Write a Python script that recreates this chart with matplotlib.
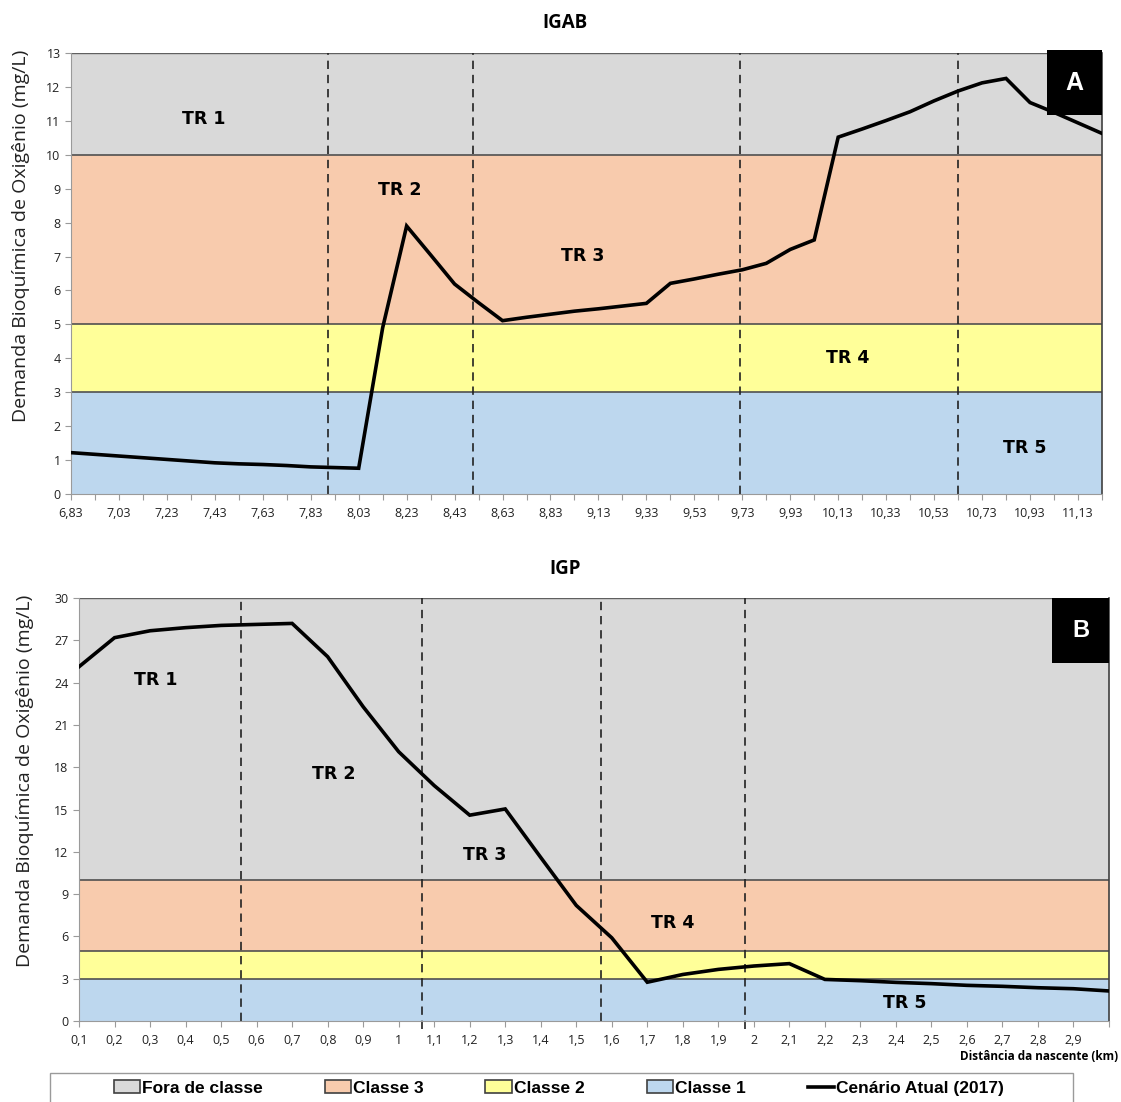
import numpy as np
import matplotlib
matplotlib.use("Agg")
import matplotlib.pyplot as plt
from matplotlib.patches import Patch, Rectangle
from matplotlib.lines import Line2D

# ---------------- IGAB (categorical distance axis) ----------------
igab_tick_labels = ['6,83', '7,03', '7,23', '7,43', '7,63', '7,83', '8,03', '8,23',
                    '8,43', '8,63', '8,83', '9,13', '9,33', '9,53', '9,73', '9,93',
                    '10,13', '10,33', '10,53', '10,73', '10,93', '11,13']
igab_dbo = [1.22, 1.17, 1.12, 1.07, 1.02, 0.97, 0.92, 0.89, 0.87, 0.84, 0.80,
            0.78, 0.76, 4.90, 7.90, 7.05, 6.19, 5.64, 5.11, 5.21, 5.30, 5.39,
            5.46, 5.54, 5.62, 6.21, 6.34, 6.48, 6.61, 6.80, 7.21, 7.49, 10.52,
            10.76, 11.01, 11.27, 11.59, 11.88, 12.12, 12.25, 11.54, 11.25, 10.94,
            10.63]
igab_tr_limits = [10.72, 16.76, 27.9, 36.99]
igab_tr_x = [5.55, 13.72, 21.35, 32.4, 39.8]
igab_tr_y = [11.06, 8.96, 7.02, 4.01, 1.36]

# ---------------- IGP (distance from the source, km) ----------------
igp_km = [0.1, 0.2, 0.3, 0.4, 0.5, 0.6, 0.7, 0.8, 0.9, 1.0, 1.1, 1.2, 1.3, 1.4,
          1.5, 1.6, 1.7, 1.8, 1.9, 2.0, 2.1, 2.2, 2.3, 2.4, 2.5, 2.6, 2.7, 2.8,
          2.9, 3.0]
igp_dbo = [25.13, 27.19, 27.68, 27.90, 28.06, 28.13, 28.20, 25.84, 22.29, 19.10,
           16.70, 14.60, 15.04, 11.60, 8.20, 5.90, 2.75, 3.30, 3.66, 3.90, 4.07,
           2.95, 2.86, 2.74, 2.65, 2.53, 2.46, 2.36, 2.29, 2.13]
igp_tick_labels = ['0,1', '0,2', '0,3', '0,4', '0,5', '0,6', '0,7', '0,8', '0,9', '1',
                   '1,1', '1,2', '1,3', '1,4', '1,5', '1,6', '1,7', '1,8', '1,9', '2',
                   '2,1', '2,2', '2,3', '2,4', '2,5', '2,6', '2,7', '2,8', '2,9', '']
igp_tr_limits = [0.555, 1.065, 1.571, 1.974]
igp_tr_x = [0.317, 0.818, 1.243, 1.772, 2.425]
igp_tr_y = [24.2, 17.5, 11.8, 6.95, 1.28]

tr_names = ['TR 1', 'TR 2', 'TR 3', 'TR 4', 'TR 5']

# CONAMA classes: lower / upper DBO limits
class_names = ['Fora de classe', 'Classe 3', 'Classe 2', 'Classe 1']
class_colors = ['#D9D9D9', '#F8CBAD', '#FFFF99', '#BDD7EE']
class_lower = [10, 5, 3, 0]
class_upper = [None, 10, 5, 3]

series_name = 'Cenário Atual (2017)'
ylabel = 'Demanda Bioquímica de Oxigênio (mg/L)'

TICK_FONT = ['Open Sans', 'DejaVu Sans']
TR_FONT = ['DejaVu Sans']
LEG_FONT = ['Liberation Sans', 'DejaVu Sans']

fig = plt.figure(figsize=(11.21, 11.02), dpi=100)


def draw_panel(ax, x, y, ymax, tr_limits, tr_x, tr_y, long_dashes):
    for col, lo, hi in zip(class_colors, class_lower, class_upper):
        top = ymax if hi is None else hi
        ax.axhspan(lo, top, facecolor=col, edgecolor='none', zorder=0)
    for lvl in (3, 5, 10):
        ax.axhline(lvl, color='#505050', lw=1.2, zorder=1)
    ax.axhline(ymax, color='#606060', lw=1.0, zorder=1)
    for i, xv in enumerate(tr_limits):
        lo = -0.02 if i in long_dashes else 0.0
        ax.axvline(xv, ymin=lo, ymax=1, color='#222222', lw=1.2,
                   ls=(0, (5, 3.5)), zorder=2, clip_on=False)
    ax.plot(x, y, color='black', lw=2.6, zorder=4, solid_joinstyle='miter')
    for name, tx, ty in zip(tr_names, tr_x, tr_y):
        ax.text(tx, ty, name, ha='center', va='center', fontsize=12.5,
                fontweight='bold', family=TR_FONT, zorder=5)
    ax.set_ylim(0, ymax)
    ax.set_ylabel(ylabel, fontsize=14, family=TICK_FONT, color='#222222')
    ax.spines['top'].set_visible(False)
    for side in ('left', 'bottom'):
        ax.spines[side].set_color('#9a9a9a')
    ax.spines['right'].set_color('#404040')
    ax.spines['right'].set_linewidth(1.2)
    ax.tick_params(axis='both', direction='out', length=4, color='#9a9a9a',
                   labelsize=9, labelcolor='#222222')
    ax.tick_params(axis='x', pad=5)


# ---- top panel ----
ax1 = fig.add_axes([0.0633, 0.5517, 0.9197, 0.4002])
pos = np.arange(len(igab_dbo))
draw_panel(ax1, pos, igab_dbo, 13, igab_tr_limits, igab_tr_x, igab_tr_y, [])
ax1.set_xlim(0, len(igab_dbo) - 1)
ax1.set_yticks(range(0, 14))
ax1.set_xticks(pos)
labels_top = [igab_tick_labels[i // 2] if i % 2 == 0 and i // 2 < len(igab_tick_labels) else ''
              for i in pos]
ax1.set_xticklabels(labels_top)
ax1.yaxis.set_label_coords(-0.0398, 0.585)
ax1.add_patch(Rectangle((0.947, 0.859), 0.053, 0.148, transform=ax1.transAxes,
                        facecolor='black', edgecolor='none', zorder=6, clip_on=False))
ax1.text(0.9735, 0.933, 'A', transform=ax1.transAxes, ha='center', va='center',
         color='white', fontsize=18, fontweight='bold',
         family=['Liberation Sans', 'DejaVu Sans'], zorder=7)
fig.text(0.504, 0.979, 'IGAB', ha='center', va='center', fontsize=13.5,
         fontweight='bold', family=TICK_FONT)

# ---- bottom panel ----
ax2 = fig.add_axes([0.0705, 0.0735, 0.9188, 0.3838])
draw_panel(ax2, igp_km, igp_dbo, 30, igp_tr_limits, igp_tr_x, igp_tr_y, [1, 3])
ax2.set_xlim(igp_km[0], igp_km[-1])
ax2.set_yticks(range(0, 31, 3))
ax2.set_xticks(igp_km)
ax2.set_xticklabels(igp_tick_labels)
ax2.yaxis.set_label_coords(-0.0437, 0.567)
ax2.add_patch(Rectangle((0.945, 0.846), 0.055, 0.154, transform=ax2.transAxes,
                        facecolor='black', edgecolor='none', zorder=6, clip_on=False))
ax2.text(0.9725, 0.923, 'B', transform=ax2.transAxes, ha='center', va='center',
         color='white', fontsize=17, fontweight='bold',
         family=['Liberation Sans', 'DejaVu Sans'], zorder=7)
fig.text(0.504, 0.4837, 'IGP', ha='center', va='center', fontsize=13.5,
         fontweight='bold', family=TICK_FONT)
fig.text(0.9975, 0.0415, 'Distância da nascente (km)', ha='right', va='center',
         fontsize=8.5, fontweight='bold', family=TICK_FONT)

for lab in (ax1.get_xticklabels() + ax1.get_yticklabels()
            + ax2.get_xticklabels() + ax2.get_yticklabels()):
    lab.set_family(TICK_FONT)

# ---- legend ----
fig.patches.append(Rectangle((0.0446, -0.01), 0.9126, 0.0363, transform=fig.transFigure,
                             facecolor='white', edgecolor='#9a9a9a', lw=1.0, zorder=0))
handles = [Patch(facecolor=c, edgecolor='#404040', lw=1.2) for c in class_colors]
handles.append(Line2D([0], [0], color='black', lw=2.6))
leg = fig.legend(handles, class_names + [series_name], loc='center',
                 bbox_to_anchor=(0.4985, 1 - 1088 / 1102), ncol=5, frameon=False,
                 handlelength=1.5, handleheight=0.75, handletextpad=0.15,
                 columnspacing=3.55, borderpad=0.2,
                 prop={'family': LEG_FONT, 'weight': 'bold', 'size': 12.5})

fig.savefig('out.png', dpi=100)
